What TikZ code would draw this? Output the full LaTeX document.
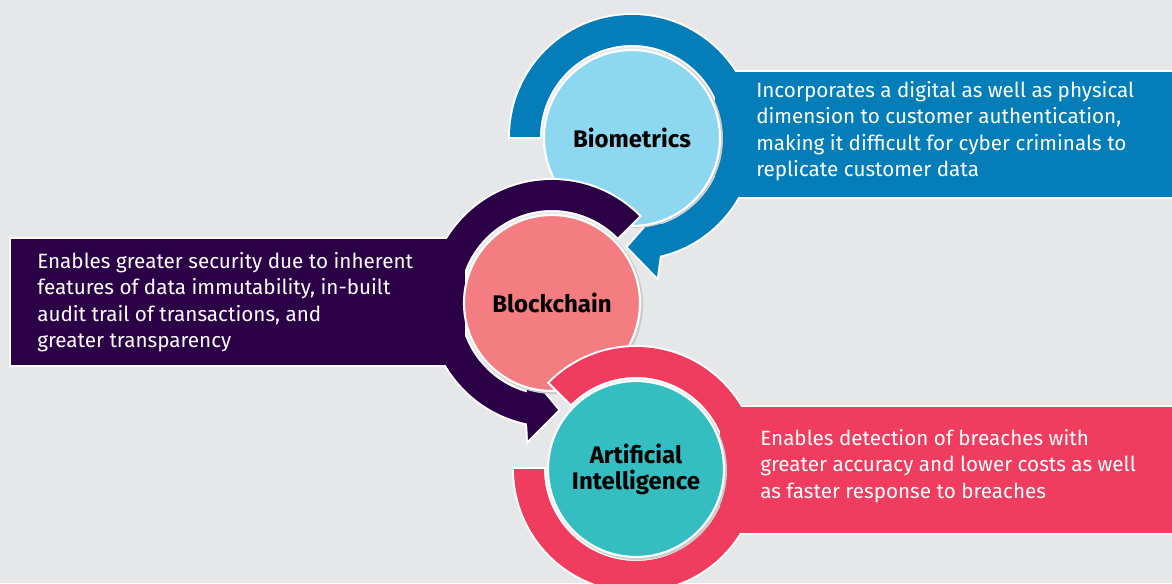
\documentclass[tikz,border=0pt]{standalone}
\usepackage{fontspec}
\setmainfont{Fira Sans}
\usetikzlibrary{calc}
\definecolor{bgc}{HTML}{E6E7E9}
\definecolor{cblue}{HTML}{047DB8}
\definecolor{clblue}{HTML}{8DD7F0}
\definecolor{cpurple}{HTML}{2C0047}
\definecolor{cpink}{HTML}{F47D81}
\definecolor{cred}{HTML}{EF3C5F}
\definecolor{cteal}{HTML}{35BEC1}
\definecolor{cshadow}{HTML}{C9CACC}
\begin{document}
\begin{tikzpicture}[x=0.75pt,y=0.75pt,
  outline/.style={draw=white,line width=3pt,line join=miter},
  disc/.style={circle,minimum size=132pt,inner sep=0pt,draw=white,line width=1.6pt,
    font=\bfseries\fontsize{18}{19.5}\selectfont,align=center,text=black},
  desc/.style={anchor=west,inner sep=0pt,align=left,text=white,
    font=\fontsize{15.5}{19.75}\selectfont}]
\fill[bgc] (0,0) rectangle (1172,583);
\useasboundingbox (0,0) rectangle (1172,583);
\coordinate (cB) at (632,446);
\coordinate (cK) at (552,280);
\coordinate (cA) at (636,114);

% ---------- Biometrics (blue) ----------
\def\bluerect{(715,386) rectangle (1180,511)}
\def\bluering{($(cB)+(180:122)$) arc[start angle=180,end angle=-76.8,radius=122]
  -- ($(cB)+(25,-140)$) -- ($(cB)+(-4,-110)$) -- ($(cB)+(31,-70)$)
  -- ($(cB)+(-71.6:92)$) arc[start angle=-71.6,end angle=180,radius=92] -- cycle}
\path[outline] \bluerect;
\path[outline] \bluering;
\fill[cblue] \bluerect;
\fill[cblue] \bluering;
\fill[cshadow] ($(cB)+(1.5,-1.5)$) circle (89.5);
\node[disc,fill=clblue] (bio) at ($(cB)+(0,-1)$) {Biometrics};

% ---------- Blockchain (purple) ----------
\def\purplerect{(11,218) rectangle (465,344)}
\def\purplering{($(cK)+(45:123)$) arc[start angle=45,end angle=258.3,radius=123]
  -- ($(cK)+(-24,-137)$) -- ($(cK)+(6,-107)$) -- ($(cK)+(-27,-67)$)
  -- ($(cK)+(254.4:93)$) arc[start angle=254.4,end angle=45,radius=93] -- cycle}
\path[outline] \purplerect;
\path[outline] \purplering;
\fill[cpurple] \purplerect;
\fill[cpurple] \purplering;
\fill[cshadow] ($(cK)+(1.5,-1.5)$) circle (89.5);
\node[disc,fill=cpink] (blk) at (cK) {Blockchain};

% ---------- Artificial Intelligence (red) ----------
\def\redrect{(720,50) rectangle (1180,176)}
\def\redring{($(cA)+(135:122)$) arc[start angle=135,end angle=-180,radius=122]
  -- ($(cA)+(180:92)$) arc[start angle=-180,end angle=135,radius=92] -- cycle}
\path[outline] \redrect;
\path[outline] \redring;
\fill[cred] \redrect;
\fill[cred] \redring;
\fill[cshadow] ($(cA)+(1.5,-1.5)$) circle (89.5);
\node[disc,fill=cteal,font=\bfseries\fontsize{18}{19.5}\selectfont] (ai) at (cA) {Artificial\\Intelligence};

% ---------- Descriptions ----------
\node[desc] (tbio) at (756,452) {Incorporates a digital as well as physical\\
dimension to customer authentication,\\
making it difficult for cyber criminals to\\
replicate customer data};
\node[desc] (tblk) at (37,281) {Enables greater security due to inherent\\
features of data immutability, in-built\\
audit trail of transactions, and\\
greater transparency};
\node[desc] (tai) at (760,117) {Enables detection of breaches with\\
greater accuracy and lower costs as well\\
as faster response to breaches};
\end{tikzpicture}
\end{document}
